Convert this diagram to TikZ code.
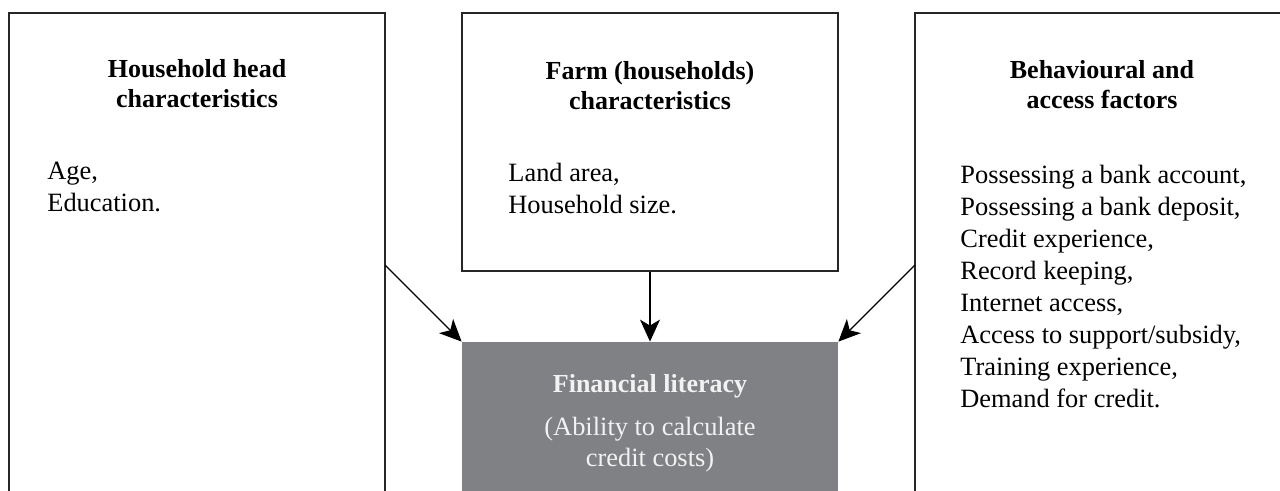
\documentclass[tikz,border=0pt]{standalone}
\usepackage{fontspec}
\setmainfont{Liberation Serif}
\usetikzlibrary{arrows.meta}

\begin{document}
\begin{tikzpicture}[x=0.5pt, y=-0.5pt,
    factor/.style={rectangle, draw=black!85, fill=white, line width=0.65pt,
        inner sep=0pt},
    outcome/.style={rectangle, draw=none, fill=literacycolor, inner sep=0pt},
    heading/.style={font=\fontsize{13}{15}\selectfont\bfseries, align=center,
        inner sep=0pt, anchor=base},
    items/.style={font=\fontsize{13.2}{16}\selectfont, align=left,
        inner sep=0pt, anchor=base west},
    influence/.style={line width=0.6pt, draw=black,
        -{Stealth[length=11pt, width=10pt, inset=3pt]}},
]
\definecolor{literacycolor}{RGB}{128,129,133}
\colorlet{literacytext}{white!95!black}
  \useasboundingbox (0,0) rectangle (1280,491);
  \clip (0,0) rectangle (1280,491);
  % factor boxes
  \node[factor, minimum width=188pt, minimum height=300pt] (hhead) at (197, 313) {};
  \node[factor, minimum width=188pt, minimum height=129pt] (farm) at (650, 142) {};
  \node[factor, minimum width=200pt, minimum height=300pt] (behav) at (1115, 313) {};
  \node[outcome, minimum width=188pt, minimum height=150pt] (literacy) at (650, 492) {};
  % headings and lists (anchored at the last line)
  \node[heading] (hhead_ttl) at (197, 108) {Household head\\characteristics};
  \node[items] (hhead_list) at (47, 212) {Age,\\Education.};
  \node[heading] (farm_ttl) at (650, 110) {Farm (households)\\characteristics};
  \node[items] (farm_list) at (508, 214) {Land area,\\Household size.};
  \node[heading] (behav_ttl) at (1102, 109) {Behavioural and\\access factors};
  \node[items] (behav_list) at (960, 408) {Possessing a bank account,\\
    Possessing a bank deposit,\\Credit experience,\\Record keeping,\\
    Internet access,\\Access to support/subsidy,\\Training experience,\\
    Demand for credit.};
  \node[heading, text=literacytext] (literacy_ttl) at (650, 393) {Financial literacy};
  \node[heading, font=\fontsize{13.2}{16}\selectfont, text=literacytext]
    (literacy_sub) at (650, 467) {(Ability to calculate\\credit costs)};
  % influences
  \coordinate (hhead_src) at (385, 265);
  \coordinate (behav_src) at (915, 265);
  \draw[influence] (hhead_src) -- (literacy.north west);
  \draw[influence] (farm.south) -- (literacy.north);
  \draw[influence] (behav_src) -- (literacy.north east);
\end{tikzpicture}
\end{document}
